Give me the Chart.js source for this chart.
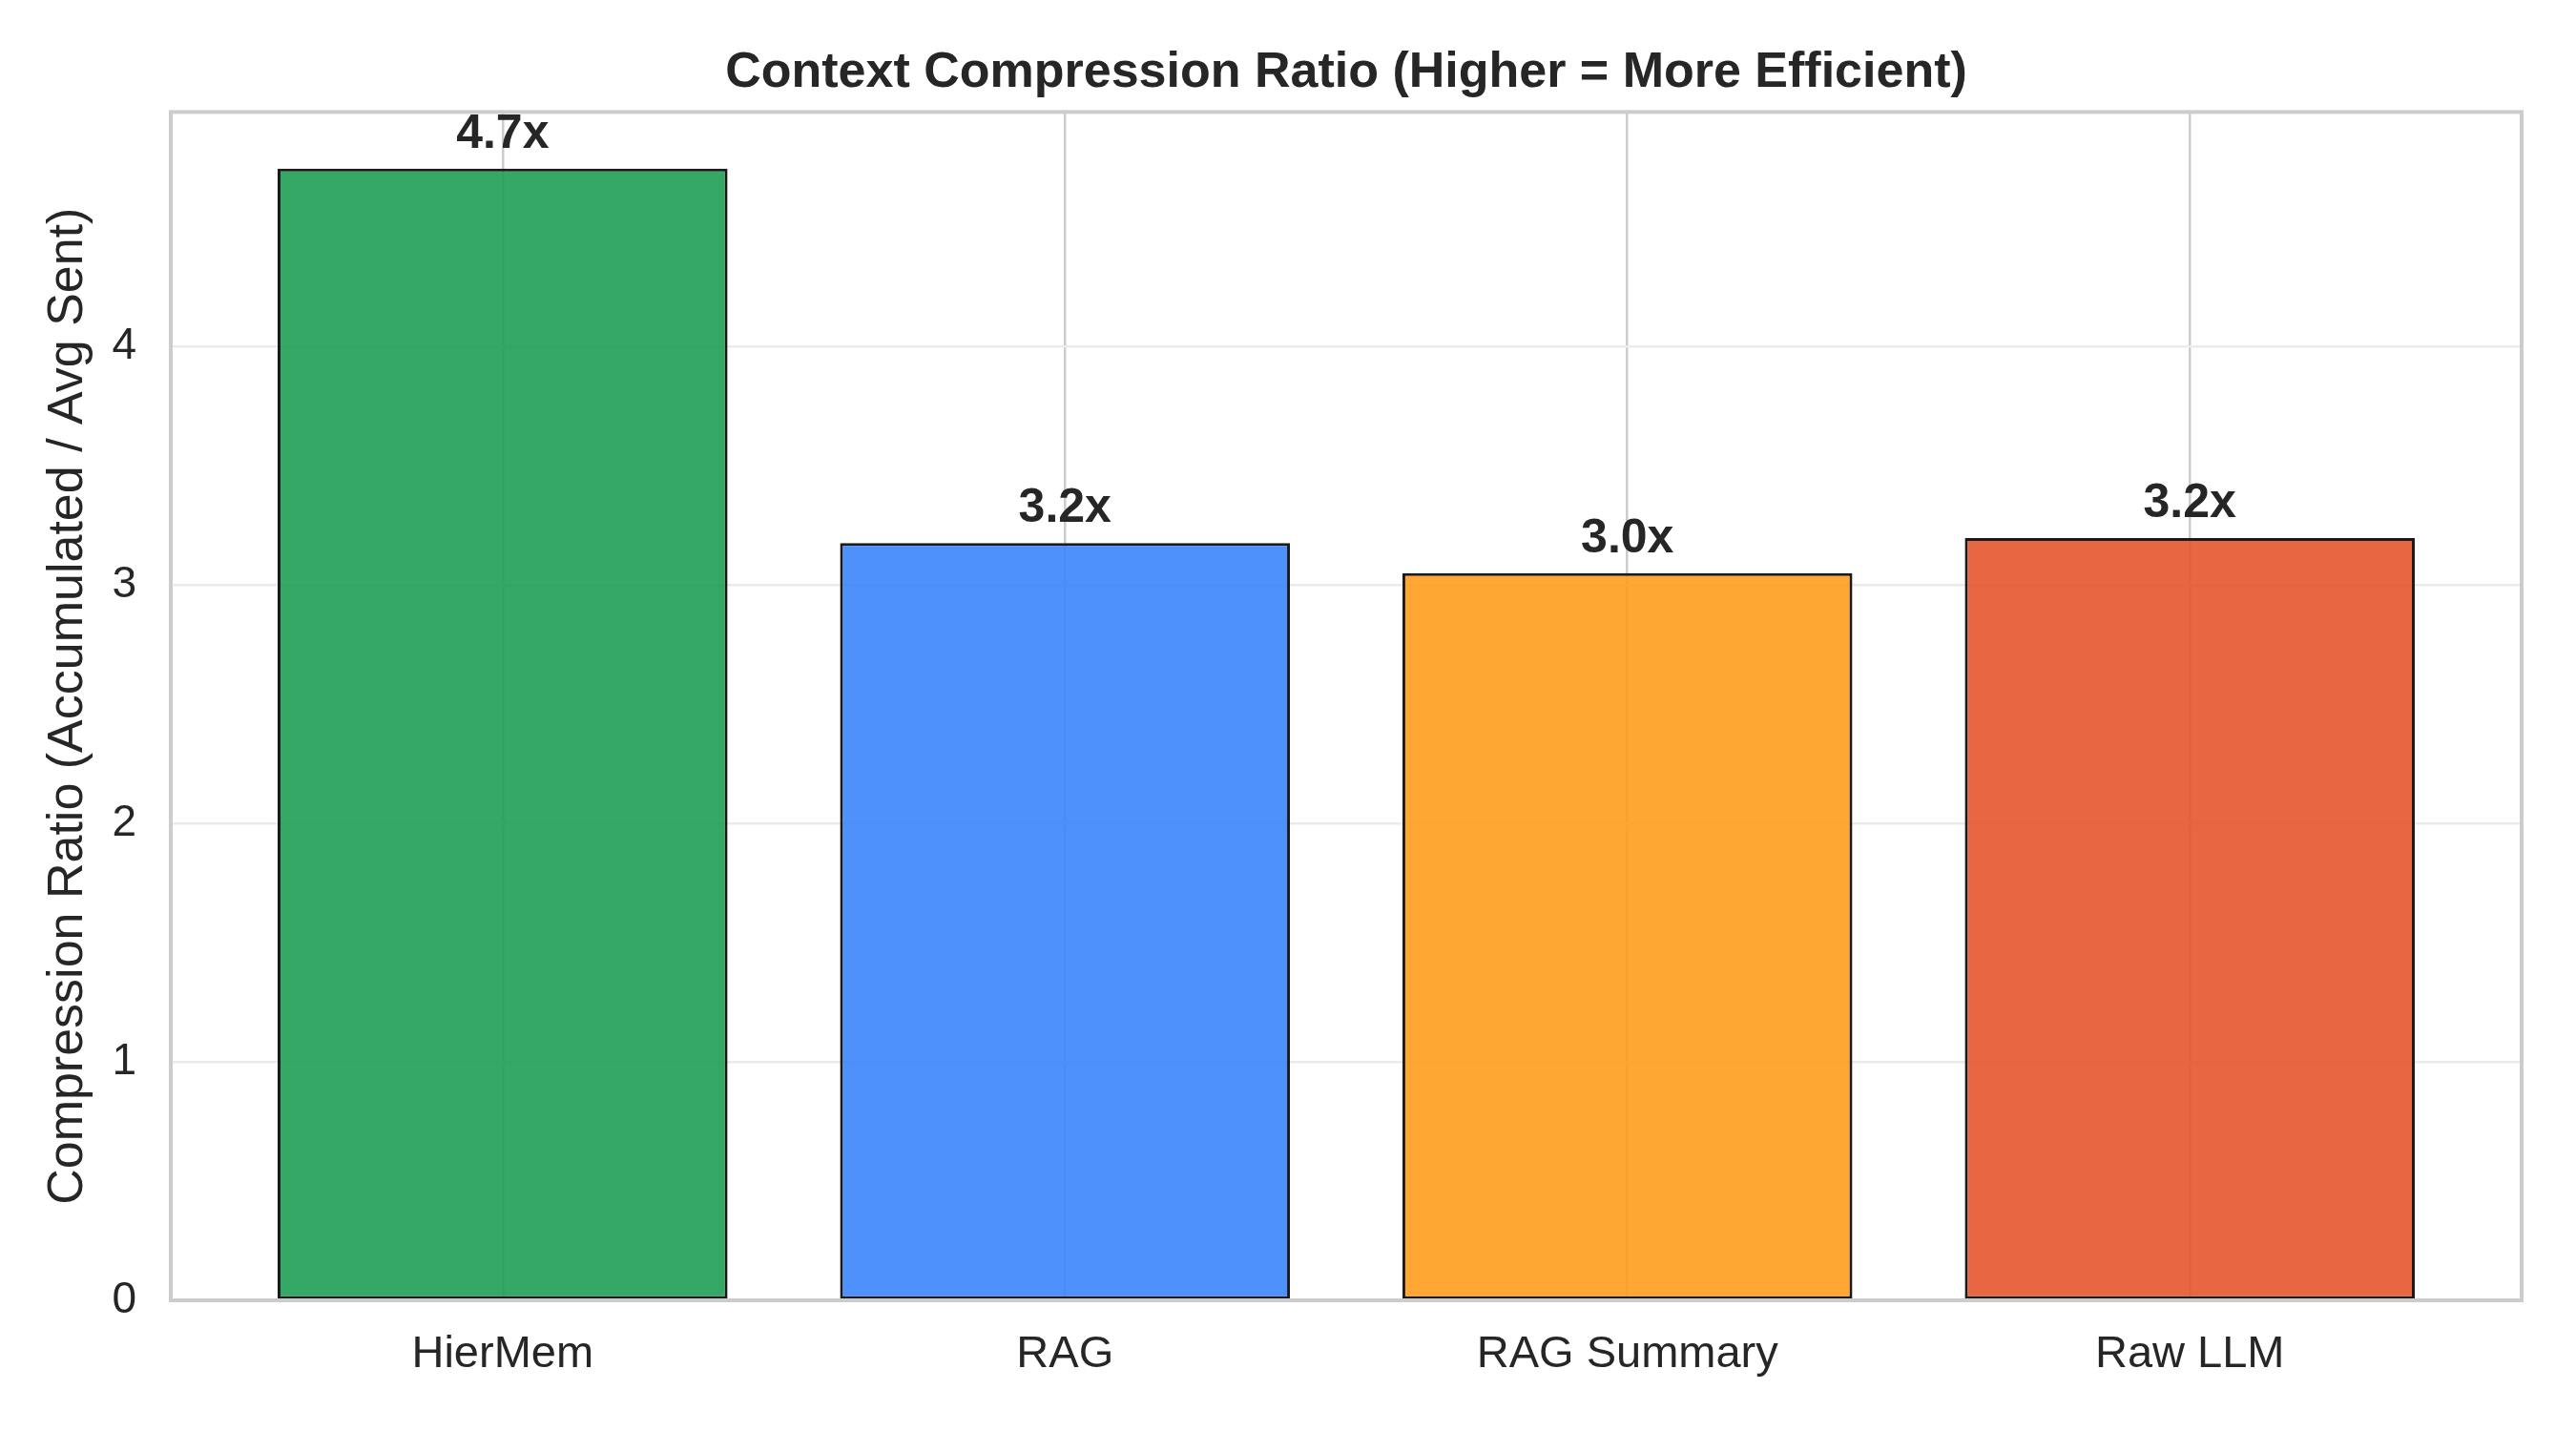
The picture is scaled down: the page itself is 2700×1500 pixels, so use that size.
<!DOCTYPE html>
<html>
<head>
<meta charset="utf-8">
<title>Context Compression Ratio</title>
<script src="https://cdn.jsdelivr.net/npm/chart.js@4.4.1/dist/chart.umd.min.js"></script>
<style>
  html, body { margin: 0; padding: 0; background: #ffffff; }
  #wrap { width: 2700px; height: 1500px; position: relative; }
</style>
</head>
<body>
<div id="wrap"><canvas id="ratioChart"></canvas></div>
<script>
/* compression ratio bar chart */

const methods = ['HierMem', 'RAG', 'RAG Summary', 'Raw LLM'];
const ratios = [4.745, 3.175, 3.049, 3.196];
const barColors = ['rgba(31,158,85,0.9)', 'rgba(59,133,253,0.9)', 'rgba(255,157,28,0.9)', 'rgba(227,87,46,0.9)'];
const yTicks = [0, 1, 2, 3, 4];

const FONT = '"Liberation Sans", Arial, Helvetica, sans-serif';
const TEXT = '#262626';

// light grey frame around the plot, drawn over bars like matplotlib spines
const frame = {
  id: 'frame',
  afterDatasetsDraw(chart) {
    const a = chart.chartArea, ctx = chart.ctx;
    ctx.save();
    ctx.strokeStyle = '#cccccc';
    ctx.lineWidth = 4;
    ctx.strokeRect(a.left, a.top, a.right - a.left, a.bottom - a.top);
    ctx.restore();
  }
};

// "4.7x" style labels above each bar
const barLabels = {
  id: 'barLabels',
  afterDatasetsDraw(chart) {
    const ctx = chart.ctx;
    const meta = chart.getDatasetMeta(0);
    ctx.save();
    ctx.font = 'bold 50px ' + FONT;
    ctx.fillStyle = TEXT;
    ctx.textAlign = 'center';
    ctx.textBaseline = 'alphabetic';
    meta.data.forEach((bar, i) => {
      ctx.fillText(ratios[i].toFixed(1) + 'x', bar.x, bar.y - 22);
    });
    ctx.restore();
  }
};

const maxY = Math.max(...ratios) * 1.05;

new Chart(document.getElementById('ratioChart'), {
  type: 'bar',
  data: {
    datasets: [{
      data: ratios.map((v, i) => ({ x: i, y: v })),
      backgroundColor: barColors,
      borderColor: '#1a1a1a',
      borderWidth: 3,
      borderSkipped: false,
      barPercentage: 0.8,
      categoryPercentage: 1.0
    }]
  },
  options: {
    responsive: true,
    maintainAspectRatio: false,
    animation: false,
    layout: { padding: { left: 0, right: 57, top: 0, bottom: 0 } },
    plugins: {
      legend: { display: false },
      tooltip: { enabled: false },
      title: {
        display: true,
        fullSize: false,
        text: 'Context Compression Ratio (Higher = More Efficient)',
        color: TEXT,
        font: { family: FONT, size: 52, weight: 'bold' },
        padding: { top: 45, bottom: 10 }
      }
    },
    scales: {
      x: {
        type: 'linear',
        offset: false,
        min: -0.59,
        max: methods.length - 1 + 0.59,
        afterBuildTicks: axis => {
          axis.ticks = methods.map((m, i) => ({ value: i }));
        },
        afterFit: axis => { axis.height = 137; },
        ticks: {
          callback: v => methods[v],
          color: TEXT,
          font: { family: FONT, size: 47 },
          padding: 29,
          maxRotation: 0,
          autoSkip: false
        },
        grid: { color: '#cccccc', lineWidth: 2.5, drawTicks: false, offset: false },
        border: { display: false }
      },
      y: {
        min: 0,
        max: maxY,
        afterBuildTicks: axis => {
          axis.ticks = yTicks.map(v => ({ value: v }));
        },
        afterFit: axis => { axis.width = 179; },
        ticks: {
          color: TEXT,
          font: { family: FONT, size: 46 },
          padding: 36
        },
        grid: { color: '#ebebeb', lineWidth: 2.5, drawTicks: false },
        border: { display: false },
        title: {
          display: true,
          text: 'Compression Ratio (Accumulated / Avg Sent)',
          color: TEXT,
          font: { family: FONT, size: 52 },
          padding: { top: 40, bottom: 0 }
        }
      }
    }
  },
  plugins: [frame, barLabels]
});
</script>
</body>
</html>
